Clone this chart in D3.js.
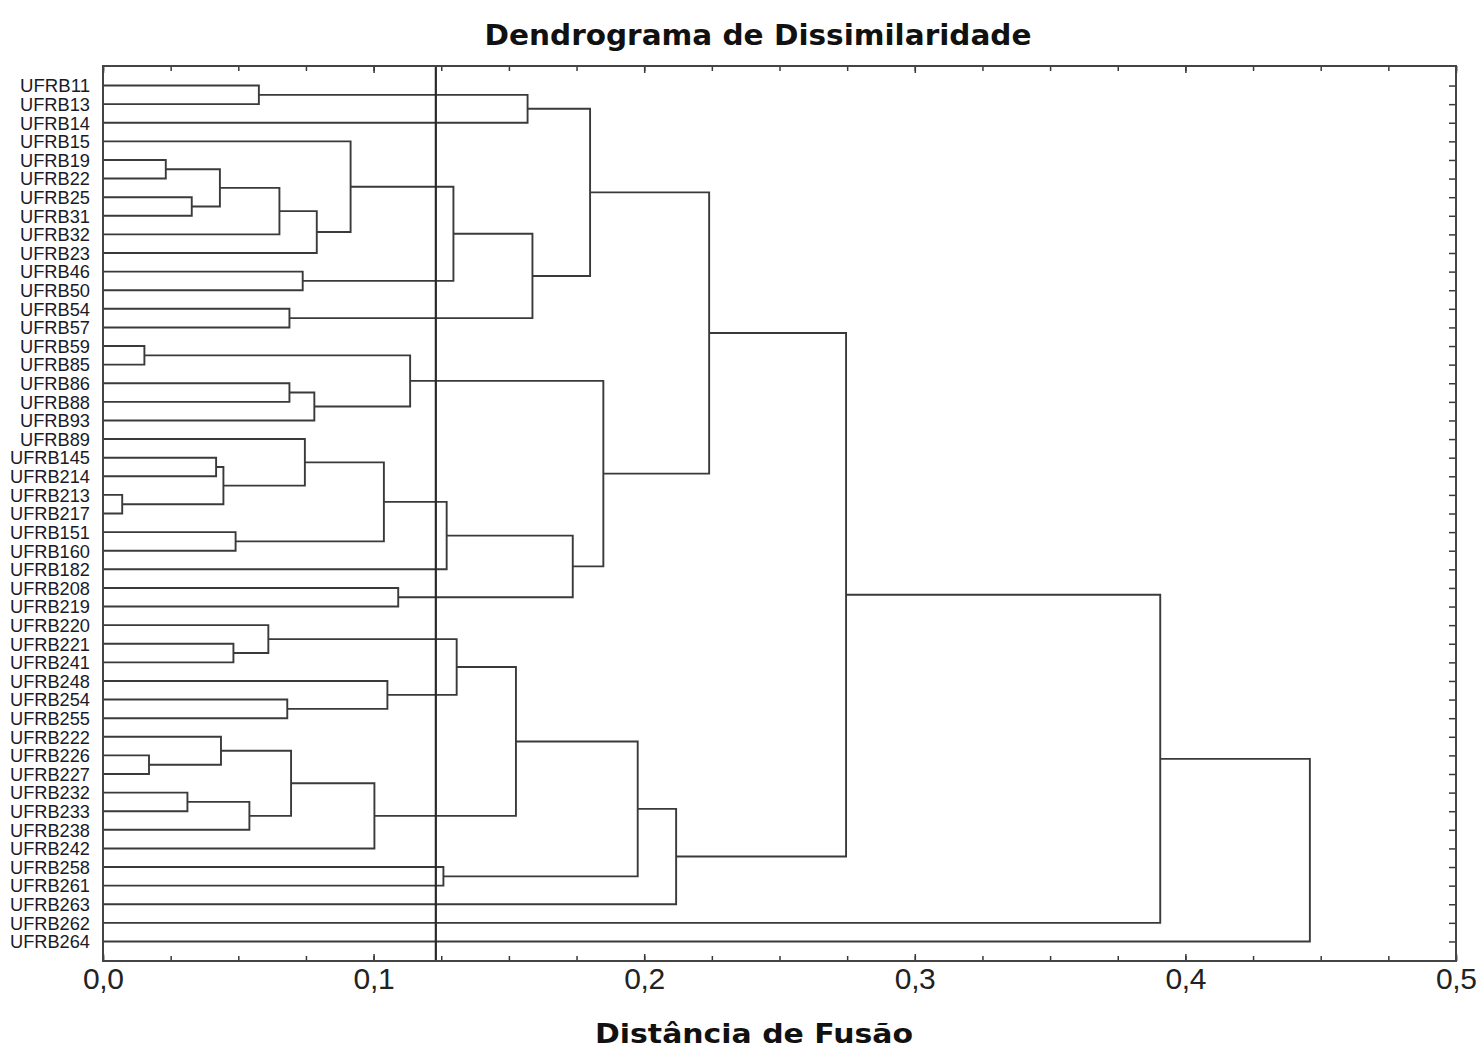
<!DOCTYPE html>
<html>
<head>
<meta charset="utf-8">
<script src="https://cdn.jsdelivr.net/npm/d3@7"></script>
<style>
  body { margin: 0; background: #fff; }
  svg { display: block; }
</style>
</head>
<body>
<div id="chart"></div>
<script>
// leaves in the order they are drawn, top to bottom
const leaves = [
  "UFRB11", "UFRB13", "UFRB14", "UFRB15", "UFRB19", "UFRB22", "UFRB25", "UFRB31",
  "UFRB32", "UFRB23", "UFRB46", "UFRB50", "UFRB54", "UFRB57", "UFRB59", "UFRB85",
  "UFRB86", "UFRB88", "UFRB93", "UFRB89", "UFRB145", "UFRB214", "UFRB213", "UFRB217",
  "UFRB151", "UFRB160", "UFRB182", "UFRB208", "UFRB219", "UFRB220", "UFRB221", "UFRB241",
  "UFRB248", "UFRB254", "UFRB255", "UFRB222", "UFRB226", "UFRB227", "UFRB232", "UFRB233",
  "UFRB238", "UFRB242", "UFRB258", "UFRB261", "UFRB263", "UFRB262", "UFRB264"
]

// linkage: [child a, child b, fusion distance]
// a string is a leaf, a number is an earlier row of this list
const merges = [
  ["UFRB11", "UFRB13", 0.0576],
  [0, "UFRB14", 0.1569],
  ["UFRB19", "UFRB22", 0.0232],
  ["UFRB25", "UFRB31", 0.0328],
  [2, 3, 0.0432],
  [4, "UFRB32", 0.0652],
  [5, "UFRB23", 0.0790],
  ["UFRB15", 6, 0.0915],
  ["UFRB46", "UFRB50", 0.0738],
  [7, 8, 0.1295],
  ["UFRB54", "UFRB57", 0.0689],
  [9, 10, 0.1587],
  [1, 11, 0.1800],
  ["UFRB59", "UFRB85", 0.0153],
  ["UFRB86", "UFRB88", 0.0689],
  [14, "UFRB93", 0.0781],
  [13, 15, 0.1135],
  ["UFRB145", "UFRB214", 0.0418],
  ["UFRB213", "UFRB217", 0.0071],
  [17, 18, 0.0445],
  ["UFRB89", 19, 0.0746],
  ["UFRB151", "UFRB160", 0.0490],
  [20, 21, 0.1038],
  [22, "UFRB182", 0.1270],
  ["UFRB208", "UFRB219", 0.1091],
  [23, 24, 0.1736],
  [16, 25, 0.1849],
  [12, 26, 0.2240],
  ["UFRB221", "UFRB241", 0.0482],
  ["UFRB220", 28, 0.0611],
  ["UFRB254", "UFRB255", 0.0681],
  ["UFRB248", 30, 0.1051],
  [29, 31, 0.1307],
  ["UFRB226", "UFRB227", 0.0170],
  ["UFRB222", 33, 0.0436],
  ["UFRB232", "UFRB233", 0.0312],
  [35, "UFRB238", 0.0541],
  [34, 36, 0.0695],
  [37, "UFRB242", 0.1003],
  [32, 38, 0.1526],
  ["UFRB258", "UFRB261", 0.1258],
  [39, 40, 0.1976],
  [41, "UFRB263", 0.2118],
  [27, 42, 0.2746],
  [43, "UFRB262", 0.3907],
  [44, "UFRB264", 0.4460]
]

const majorTicks = [0, 0.1, 0.2, 0.3, 0.4, 0.5]
const minorTicks = d3.range(0, 0.5001, 0.025)
const cutDistance = 0.123

const title = "Dendrograma de Dissimilaridade"
const xTitle = "Distância de Fusão"

// ---- layout
const width = 1478
const height = 1048
const plotLeft = 103, plotRight = 1456, plotTop = 66, plotBottom = 961
const lineColor = "#3a3a3a"

const svg = d3.select("#chart").append("svg")
    .attr("width", width)
    .attr("height", height)

const x = d3.scaleLinear().domain([0, 0.5]).range([plotLeft, plotRight])
const y = d3.scalePoint().domain(leaves).range([plotTop, plotBottom]).padding(1.05)

// build nodes from the linkage rows
const nodes = []
const getNode = function (ref) {
    if (typeof ref === "string") return { name: ref, h: 0, y: y(ref) }
    return nodes[ref]
}
merges.forEach(function (m) {
    const a = getNode(m[0])
    const b = getNode(m[1])
    nodes.push({ a: a, b: b, h: m[2], y: (a.y + b.y) / 2 })
})

// links
svg.append("g")
    .attr("fill", "none")
    .attr("stroke", lineColor)
    .attr("stroke-width", 1.9)
    .selectAll("path")
    .data(nodes)
    .enter().append("path")
    .attr("d", function (d) {
        return "M" + x(d.a.h) + "," + d.a.y +
            "H" + x(d.h) +
            "V" + d.b.y +
            "H" + x(d.b.h)
    })

// cut line
svg.append("line")
    .attr("x1", x(cutDistance)).attr("x2", x(cutDistance))
    .attr("y1", plotTop).attr("y2", plotBottom)
    .attr("stroke", "#2a2a2a")
    .attr("stroke-width", 2.2)

// axes, ticks pointing inward
const tickStyle = function (g) {
    g.select(".domain").remove()
    g.selectAll(".tick line").attr("stroke", lineColor).attr("stroke-width", 1.5)
}

svg.append("g")
    .attr("transform", "translate(0," + plotBottom + ")")
    .call(d3.axisBottom(x).tickValues(minorTicks).tickSize(-5).tickFormat(""))
    .call(tickStyle)

svg.append("g")
    .attr("transform", "translate(0," + plotTop + ")")
    .call(d3.axisTop(x).tickValues(minorTicks).tickSize(-5).tickFormat(""))
    .call(tickStyle)

const bottomAxis = svg.append("g")
    .attr("transform", "translate(0," + plotBottom + ")")
    .call(d3.axisBottom(x).tickValues(majorTicks).tickSize(-7).tickPadding(7)
        .tickFormat(d => d.toFixed(1).replace(".", ",")))
    .call(tickStyle)

bottomAxis.selectAll("text")
    .attr("font-family", "'Liberation Sans Narrow', 'Liberation Sans', Arial, sans-serif")
    .attr("font-size", 30)
    .attr("fill", "#222")
    .attr("textLength", 41)
    .attr("lengthAdjust", "spacing")

svg.append("g")
    .attr("transform", "translate(0," + plotTop + ")")
    .call(d3.axisTop(x).tickValues(majorTicks).tickSize(-7).tickFormat(""))
    .call(tickStyle)

svg.append("g")
    .attr("transform", "translate(" + plotRight + ",0)")
    .call(d3.axisRight(y).tickSize(-7).tickFormat(""))
    .call(tickStyle)

// frame
svg.append("rect")
    .attr("x", plotLeft).attr("y", plotTop)
    .attr("width", plotRight - plotLeft).attr("height", plotBottom - plotTop)
    .attr("fill", "none")
    .attr("stroke", "#444")
    .attr("stroke-width", 2)

// leaf labels
svg.append("g")
    .selectAll("text")
    .data(leaves)
    .enter().append("text")
    .attr("x", 90)
    .attr("y", d => y(d) + 6.8)
    .attr("text-anchor", "end")
    .attr("font-family", "'Liberation Sans', Arial, sans-serif")
    .attr("font-size", 19)
    .attr("textLength", d => d.length > 6 ? 80 : 70)
    .attr("lengthAdjust", "spacingAndGlyphs")
    .attr("fill", "#1a1a28")
    .text(d => d)

// titles
svg.append("text")
    .attr("x", 758).attr("y", 45)
    .attr("text-anchor", "middle")
    .attr("font-family", "'DejaVu Sans', Verdana, sans-serif")
    .attr("font-weight", "bold")
    .attr("font-size", 29)
    .attr("textLength", 547)
    .attr("lengthAdjust", "spacingAndGlyphs")
    .attr("fill", "#111")
    .text(title)

svg.append("text")
    .attr("x", 754).attr("y", 1043)
    .attr("text-anchor", "middle")
    .attr("font-family", "'DejaVu Sans', Verdana, sans-serif")
    .attr("font-weight", "bold")
    .attr("font-size", 27)
    .attr("textLength", 318)
    .attr("lengthAdjust", "spacingAndGlyphs")
    .attr("fill", "#111")
    .text(xTitle)
</script>
</body>
</html>
